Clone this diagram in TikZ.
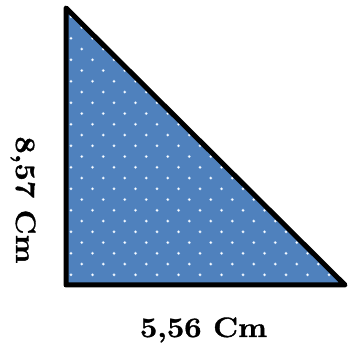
\documentclass[tikz,border=0pt]{standalone}
\usepackage{fontspec}
\newfontfamily\lblfont{Latin Modern Roman}[FakeBold=1.3]
\definecolor{triblue}{RGB}{79,129,189}
\definecolor{dotglow}{RGB}{170,200,235}
\tikzset{
  tri/.style={draw=black, line width=5pt, line join=round, fill=triblue},
  lbl/.style={font=\lblfont\bfseries\fontsize{28}{30}\selectfont, inner sep=0pt, anchor=base}
}
\begin{document}
\begin{tikzpicture}[x=1pt,y=1pt]
\useasboundingbox (0,0) rectangle (349,352);
\coordinate (A) at (66,344);
\coordinate (B) at (66,67);
\coordinate (C) at (345,67);
\fill[triblue] (A) -- (B) -- (C) -- cycle;
\begin{scope}
  \clip (A) -- (B) -- (C) -- cycle;
  \foreach \i in {0,...,26}{
    \foreach \j in {-3,...,23}{
      \pgfmathtruncatemacro\dotpar{mod(\i+\j+100,2)}
      \ifnum\dotpar=0
        \fill[dotglow] (71+10.75*\i, 313.7-10.75*\j) circle (1.7);
        \fill[white] (71+10.75*\i, 313.7-10.75*\j) circle (1.0);
      \fi
    }
  }
\end{scope}
\draw[tri, fill=none] (A) -- (B) -- (C) -- cycle;
\node[lbl] (h) at (203.5,15) {\scalebox{1.1}[1]{5,56 Cm}};
\node[lbl, rotate=-90] (v) at (16,152) {\scalebox{1.1}[1]{8,57 Cm}};
\end{tikzpicture}
\end{document}
